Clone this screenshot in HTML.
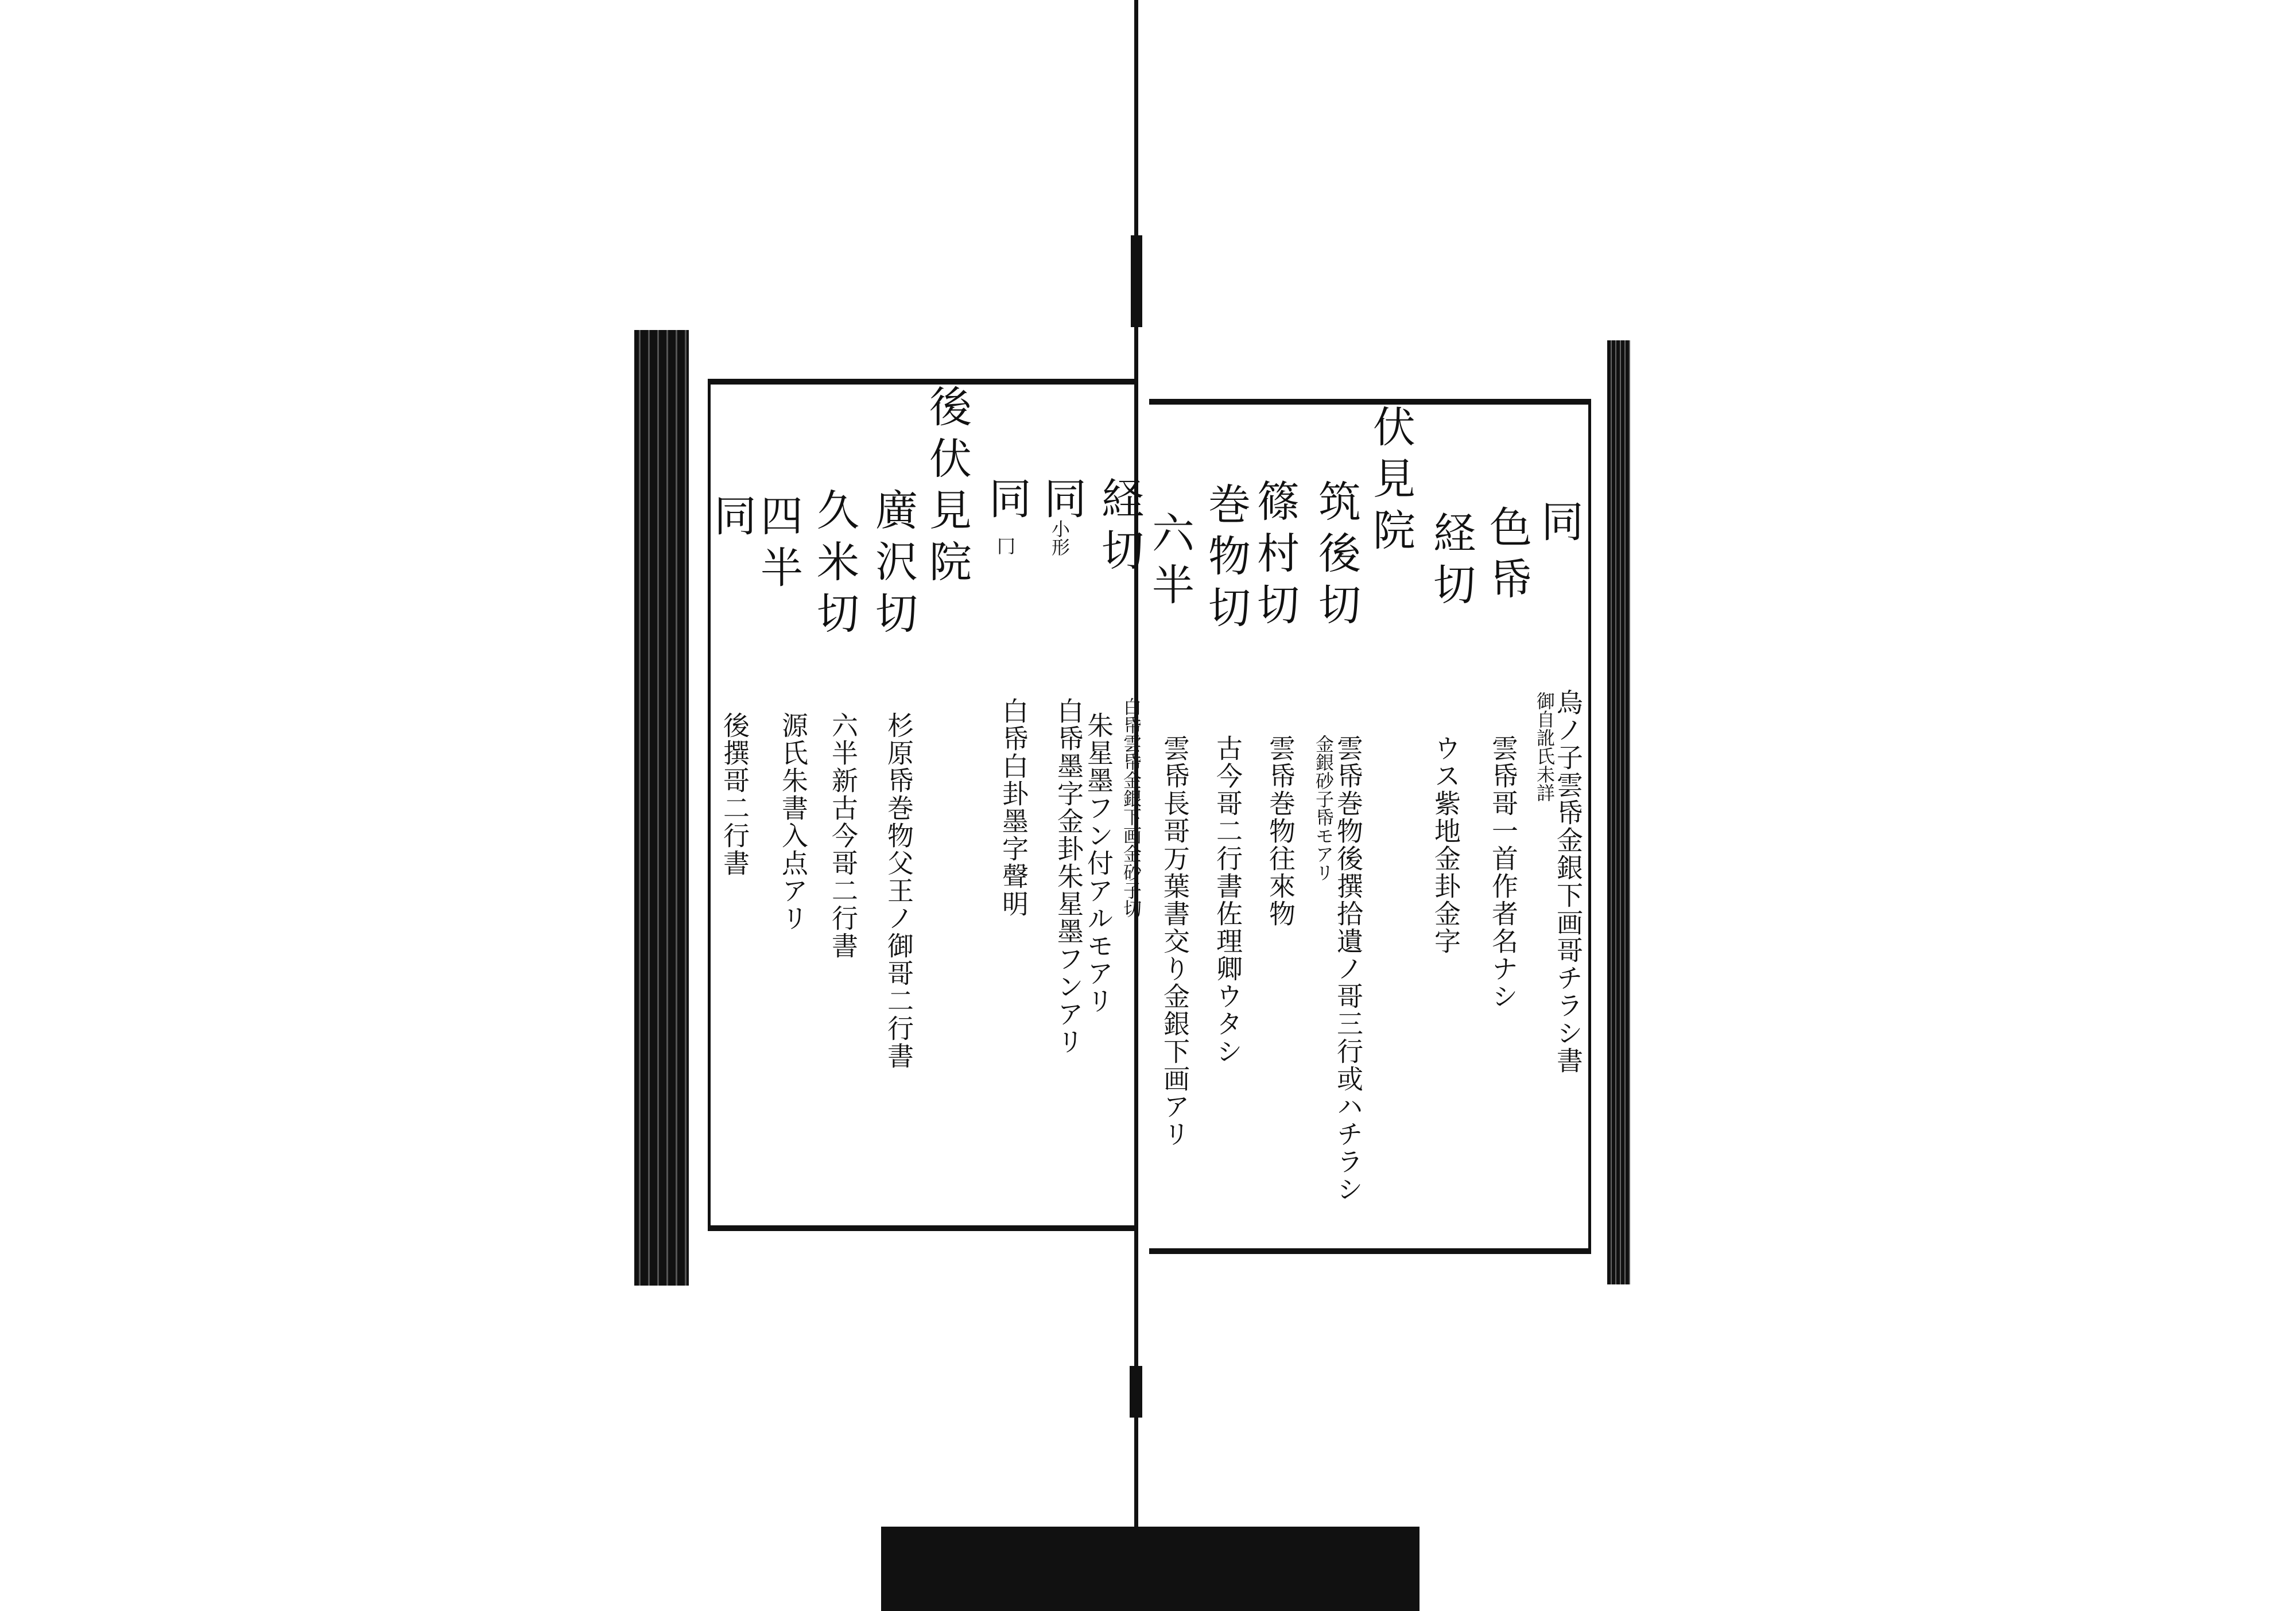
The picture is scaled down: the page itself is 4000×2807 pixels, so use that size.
<!DOCTYPE html>
<html><head><meta charset="utf-8"><style>
html,body{margin:0;padding:0;background:#fff;}
body{width:4000px;height:2807px;position:relative;overflow:hidden;font-family:"Liberation Serif","Noto Serif CJK SC","Noto Sans CJK JP",serif;color:#111;}
.b{position:absolute;background:#111;}
.v{position:absolute;writing-mode:vertical-rl;white-space:nowrap;line-height:1;}
.L{font-size:74px;letter-spacing:16px;}
.S{font-size:46px;letter-spacing:2px;}
.X{font-size:32px;}
</style></head><body>
<!-- book edges -->
<div class="b" style="left:1105px;top:575px;width:95px;height:1665px;background:repeating-linear-gradient(90deg,#111 0 8px,#555 8px 11px,#111 11px 16px);"></div>
<div class="b" style="left:2800px;top:593px;width:40px;height:1645px;background:repeating-linear-gradient(90deg,#111 0 6px,#666 6px 8px);"></div>
<!-- spine -->
<div class="b" style="left:1976px;top:0;width:7px;height:2807px;"></div>
<div class="b" style="left:1970px;top:410px;width:20px;height:160px;"></div>
<div class="b" style="left:1968px;top:2380px;width:22px;height:90px;"></div>
<!-- frames -->
<div style="position:absolute;left:1233px;top:660px;width:745px;height:1465px;border:10px solid #111;border-left-width:5px;border-right:none;"></div>
<div style="position:absolute;left:2002px;top:695px;width:765px;height:1470px;border:10px solid #111;border-right-width:5px;border-left:none;"></div>
<!-- bottom bar -->
<div class="b" style="left:1535px;top:2660px;width:938px;height:147px;"></div>

<!-- right page big -->
<div class="v L" style="left:2678px;top:870px;">同</div>
<div class="v L" style="left:2588px;top:880px;">色帋</div>
<div class="v L" style="left:2490px;top:890px;">経切</div>
<div class="v L" style="left:2385px;top:705px;">伏見院</div>
<div class="v L" style="left:2290px;top:835px;">筑後切</div>
<div class="v L" style="left:2183px;top:835px;">篠村切</div>
<div class="v L" style="left:2098px;top:840px;">巻物切</div>
<div class="v L" style="left:2000px;top:890px;">六半</div>
<!-- right page small -->
<div class="v S" style="left:2708px;top:1200px;">烏ノ子雲帋金銀下画哥チラシ書</div>
<div class="v X" style="left:2675px;top:1205px;">御自訛氏未詳</div>
<div class="v S" style="left:2595px;top:1280px;">雲帋哥一首作者名ナシ</div>
<div class="v S" style="left:2495px;top:1280px;">ウス紫地金卦金字</div>
<div class="v S" style="left:2325px;top:1280px;">雲帋巻物後撰拾遺ノ哥三行或ハチラシ</div>
<div class="v X" style="left:2290px;top:1280px;">金銀砂子帋モアリ</div>
<div class="v S" style="left:2207px;top:1280px;">雲帋巻物往來物</div>
<div class="v S" style="left:2115px;top:1280px;">古今哥二行書佐理卿ウタシ</div>
<div class="v S" style="left:2023px;top:1280px;">雲帋長哥万葉書交り金銀下画アリ</div>
<!-- left page big -->
<div class="v L" style="left:1612px;top:670px;">後伏見院</div>
<div class="v L" style="left:1912px;top:830px;">経切</div>
<div class="v L" style="left:1812px;top:830px;">同</div>
<div class="v X" style="left:1830px;top:905px;">小形</div>
<div class="v L" style="left:1716px;top:830px;">同</div>
<div class="v X" style="left:1735px;top:935px;">冂</div>
<div class="v L" style="left:1518px;top:850px;">廣沢切</div>
<div class="v L" style="left:1416px;top:850px;">久米切</div>
<div class="v L" style="left:1318px;top:860px;">四半</div>
<div class="v L" style="left:1237px;top:860px;">同</div>
<!-- left page small -->
<div class="v X" style="left:1955px;top:1215px;">白帋雲帋金銀下画金砂子切</div>
<div class="v S" style="left:1890px;top:1240px;">朱星墨フン付アルモアリ</div>
<div class="v S" style="left:1838px;top:1215px;">白帋墨字金卦朱星墨フンアリ</div>
<div class="v S" style="left:1742px;top:1215px;">白帋白卦墨字聲明</div>
<div class="v S" style="left:1542px;top:1240px;">杉原帋巻物父王ノ御哥二行書</div>
<div class="v S" style="left:1445px;top:1240px;">六半新古今哥二行書</div>
<div class="v S" style="left:1358px;top:1240px;">源氏朱書入点アリ</div>
<div class="v S" style="left:1256px;top:1240px;">後撰哥二行書</div>
</body></html>
